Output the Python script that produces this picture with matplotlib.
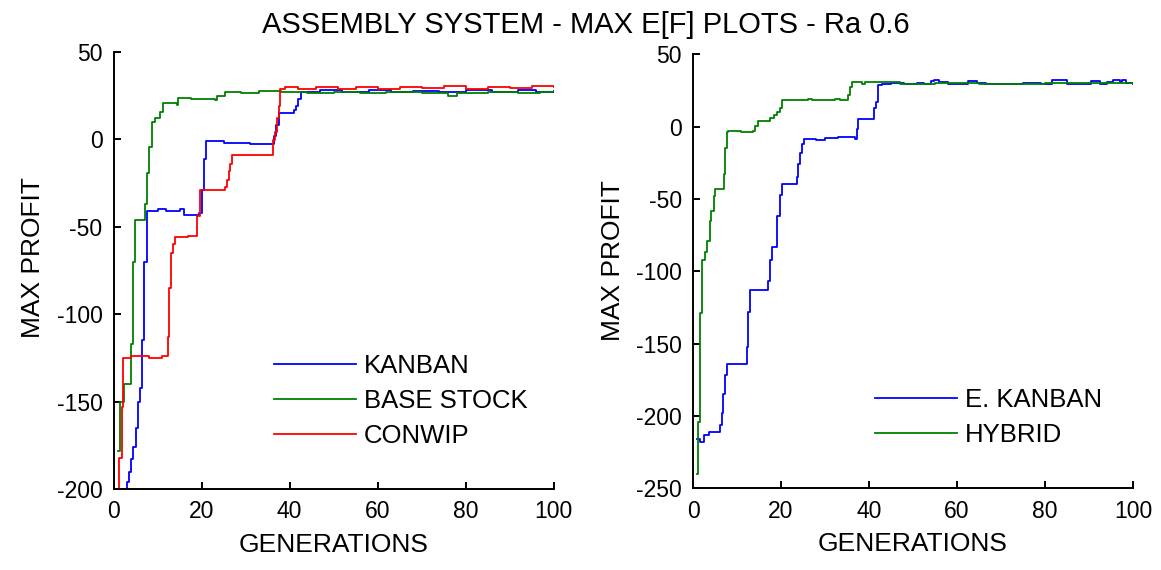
import matplotlib.pyplot as plt

plt.rcParams.update({
    "font.family": ["Liberation Sans", "DejaVu Sans"],
    "axes.unicode_minus": False,
    "axes.linewidth": 1.4,
    "xtick.direction": "in",
    "ytick.direction": "in",
    "xtick.major.size": 5,
    "ytick.major.size": 5,
    "xtick.major.width": 1.4,
    "ytick.major.width": 1.4,
})

TITLE = "ASSEMBLY SYSTEM - MAX E[F] PLOTS - Ra 0.6"
GEN_TICKS = [0, 20, 40, 60, 80, 100]
LEFT_Y_TICKS = [-200, -150, -100, -50, 0, 50]
RIGHT_Y_TICKS = [-250, -200, -150, -100, -50, 0, 50]

# left panel -- step breakpoints (generation, max profit)
kanban_gen = [1, 2, 3, 3.5, 4, 4.5, 5, 5.5, 6, 6.5, 7, 7.5, 10, 12, 15, 16, 19.5, 20, 20.5, 21,
              25, 31, 36.5, 37, 37.5, 41, 41.5, 42, 42.5, 47, 52, 58, 63, 68, 74, 80, 86, 92, 96, 100]
kanban_profit = [-200, -200, -196, -190, -183, -176, -165, -150, -142, -115, -70, -41, -40, -41, -40, -43, -42, -29, -11, -1,
                 -2, -2.5, 2, 8, 15, 16.5, 19, 23, 27, 28, 27.3, 28, 26.8, 27.8, 27, 28.2, 27.2, 28, 27.3, 27.8]

base_stock_gen = [1, 1.5, 2.3, 3.9, 4.4, 4.9, 7.2, 7.5, 8.1, 8.7, 9.4, 10.6, 11.3, 14.4, 14.7, 17.5, 21, 23, 23.5,
                  25.3, 29, 33, 38, 44, 50, 56, 62, 70, 76, 78, 85, 92, 97, 100]
base_stock_profit = [-178, -150, -140, -117, -70, -46, -37, -19, -4.5, 10, 12, 15.5, 20.6, 19.4, 23.5, 22.8, 23.3, 22.5, 24.5,
                     26.8, 26.5, 27.5, 27, 26.3, 27.2, 26.5, 27.3, 26.5, 25, 26.3, 27, 26.4, 27.2, 26.8]

conwip_gen = [1, 1.3, 1.9, 2.1, 4, 8, 11, 12.3, 12.7, 13.1, 13.5, 14, 17, 19, 19.7, 25.3, 25.7, 26.2, 26.5, 27,
              36.3, 36.7, 37.1, 37.5, 37.8, 39, 42, 46, 51, 55, 60, 65, 70, 75, 80, 85, 90, 95, 100]
conwip_profit = [-200, -182, -153, -125, -124, -125, -124, -113, -85, -65, -60, -56, -55.5, -44, -29, -27, -23, -18, -14, -9,
                 -0.6, 4, 12, 19, 28.5, 29.8, 29, 29.8, 29, 30, 28.8, 29.8, 29.2, 30.2, 29, 30, 29.3, 30.3, 30]

# right panel
ekanban_gen = [1, 1.5, 2.5, 3.7, 6.1, 6.5, 6.9, 7.3, 7.8, 12.2, 12.6, 13, 17.1, 17.5, 17.9, 19, 19.2, 19.8, 20.2,
               23.6, 23.9, 24.3, 24.7, 25.2, 28, 30, 33, 36.8, 37.2, 37.6, 41.2, 41.7, 42.1, 43,
               45, 48, 51, 52.5, 54, 54.8, 56, 58, 62.5, 64.5, 66.5, 75, 79, 81.5, 85, 90.5, 92.5,
               94, 95.5, 97, 97.5, 98.5, 100]
ekanban_profit = [-216, -218, -213, -211, -206, -198, -185, -171.5, -164, -152, -128, -113, -107, -92, -83, -76, -62, -47, -40,
                  -35, -26, -18, -12, -8.5, -9, -8, -7, -8.5, -1.4, 5.5, 12.5, 17, 28.5, 29.3,
                  30.2, 29.3, 30.2, 29.3, 31.3, 32.3, 30.5, 29.3, 31.5, 30.3, 29.3, 30.3, 29.3, 31.8, 29.3, 31.5, 29.3,
                  30.5, 31.8, 30.5, 31.8, 30, 29.5]

hybrid_gen = [1, 1.1, 1.5, 2, 2.7, 3.1, 3.9, 4.2, 4.8, 5, 7, 7.3, 7.7, 8, 11, 13.7, 14.1, 14.8, 17.5, 18.3, 19,
              19.8, 20.2, 26.2, 27, 32.3, 33.5, 35.3, 35.7, 36.1, 38.3, 39, 47, 55, 65, 80, 90, 100]
hybrid_profit = [-240, -204, -129, -92, -87, -79, -65, -58, -48, -43, -33, -14.5, -4, -3, -4, -3, 0.7, 4, 6, 8, 10,
                 13, 18, 19, 18, 19, 18, 21.5, 27, 30.8, 29.5, 30.5, 29.6, 30, 29.5, 30.2, 29.8, 30]

BLUE, GREEN, RED = "#0000ff", "#008000", "#ff0000"


def style_axes(ax, yticks):
    ax.set_xlim(0, 100)
    ax.set_ylim(yticks[0], yticks[-1])
    ax.set_xticks(GEN_TICKS)
    ax.set_yticks(yticks)
    ax.spines["top"].set_visible(False)
    ax.spines["right"].set_visible(False)
    ax.tick_params(labelsize=16.5, pad=8)
    ax.set_xlabel("GENERATIONS", fontsize=19)
    ax.set_ylabel("MAX PROFIT", fontsize=19)
    ax.xaxis.set_label_coords(0.5, -0.1)


fig = plt.figure(figsize=(11.61, 5.70), dpi=100)
ax1 = fig.add_axes([0.0978, 0.142, 0.379, 0.767])
ax2 = fig.add_axes([0.5969, 0.143, 0.379, 0.762])

ax1.plot(kanban_gen, kanban_profit, color=BLUE, lw=1.3, drawstyle="steps-post", label="KANBAN")
ax1.plot(base_stock_gen, base_stock_profit, color=GREEN, lw=1.3, drawstyle="steps-post", label="BASE STOCK")
ax1.plot(conwip_gen, conwip_profit, color=RED, lw=1.3, drawstyle="steps-post", label="CONWIP")
style_axes(ax1, LEFT_Y_TICKS)
ax1.yaxis.set_label_coords(-0.155, 0.53)

ax2.plot(ekanban_gen, ekanban_profit, color=BLUE, lw=1.3, drawstyle="steps-post", label="E. KANBAN")
ax2.plot(hybrid_gen, hybrid_profit, color=GREEN, lw=1.3, drawstyle="steps-post", label="HYBRID")
style_axes(ax2, RIGHT_Y_TICKS)
ax2.yaxis.set_label_coords(-0.155, 0.525)

leg_kw = dict(frameon=False, fontsize=18.5, handlelength=3.2, handletextpad=0.3,
              labelspacing=0.42, borderpad=0, borderaxespad=0, loc="center left")
ax1.legend(bbox_to_anchor=(0.365, 0.201), **leg_kw)
ax2.legend(bbox_to_anchor=(0.414, 0.164), **leg_kw)

fig.text(0.505, 1 - 25 / 570, TITLE, ha="center", va="center", fontsize=21)

fig.savefig("out.png", dpi=100)
